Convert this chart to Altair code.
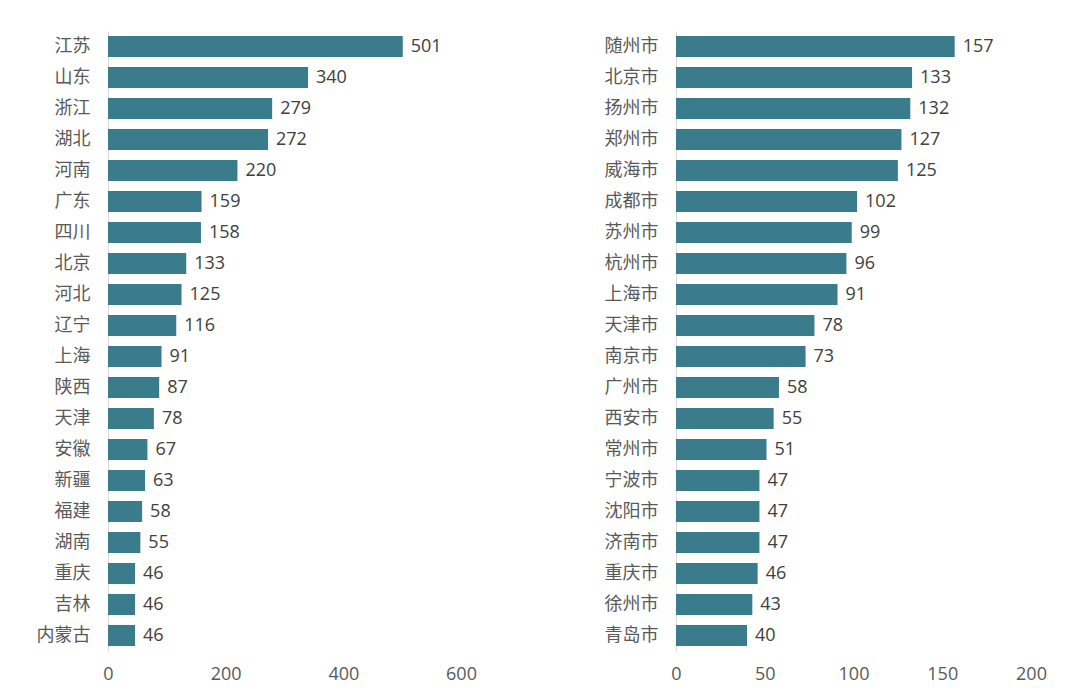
import altair as alt
import pandas as pd

provinces = ["江苏", "山东", "浙江", "湖北", "河南", "广东", "四川", "北京", "河北", "辽宁",
             "上海", "陕西", "天津", "安徽", "新疆", "福建", "湖南", "重庆", "吉林", "内蒙古"]
province_values = [501, 340, 279, 272, 220, 159, 158, 133, 125, 116,
                   91, 87, 78, 67, 63, 58, 55, 46, 46, 46]

cities = ["随州市", "北京市", "扬州市", "郑州市", "威海市", "成都市", "苏州市", "杭州市", "上海市", "天津市",
          "南京市", "广州市", "西安市", "常州市", "宁波市", "沈阳市", "济南市", "重庆市", "徐州市", "青岛市"]
city_values = [157, 133, 132, 127, 125, 102, 99, 96, 91, 78,
               73, 58, 55, 51, 47, 47, 47, 46, 43, 40]

left_ticks = [0, 200, 400, 600]
right_ticks = [0, 50, 100, 150, 200]

BAR = "#3A7B8C"
FONT = "Open Sans, Noto Sans CJK SC"


def panel(names, values, domain_max, ticks, width):
    df = pd.DataFrame({"name": names, "value": values})
    y = alt.Y("name:N", sort=names, title=None,
              scale=alt.Scale(paddingInner=0.32, paddingOuter=0.16),
              axis=alt.Axis(ticks=False, domain=True, domainColor="#d9d9d9",
                            labelFontSize=18, labelColor="#595959", labelPadding=18,
                            labelFont=FONT))
    x = alt.X("value:Q", title=None,
              scale=alt.Scale(domain=[0, domain_max], nice=False),
              axis=alt.Axis(values=ticks, grid=False, ticks=False, domain=False,
                            labelFlush=False,
                            labelFontSize=18, labelColor="#595959", labelPadding=14,
                            labelFont=FONT))
    base = alt.Chart(df).encode(y=y, x=x)
    bars = base.mark_bar(color=BAR)
    labels = base.mark_text(align="left", baseline="middle", dx=8, fontSize=18,
                            color="#404040", font=FONT).encode(text="value:Q")
    return (bars + labels).properties(width=width, height=620)


left = panel(provinces, province_values, 600, left_ticks, 353)
right = panel(cities, city_values, 200, right_ticks, 355)

chart = alt.hconcat(left, right, spacing=127).properties(
    padding={"left": 36, "top": 31, "right": 10, "bottom": 10},
    background="white",
).configure_view(strokeWidth=0, stroke=None)

chart.save("out.html", embed_options={"renderer": "svg", "actions": False})
